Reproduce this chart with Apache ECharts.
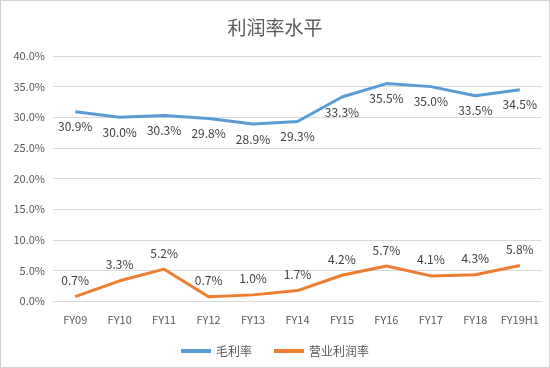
<!DOCTYPE html>
<html>
<head>
<meta charset="utf-8">
<script src="https://cdn.jsdelivr.net/npm/echarts@6/dist/echarts.min.js"></script>
<style>
  html, body { margin: 0; padding: 0; background: #fff; }
  #chart { width: 550px; height: 368px; box-sizing: border-box; border: 1px solid #d0d0d0; }
</style>
</head>
<body>
<div id="chart"></div>
<script>
const categories = ['FY09', 'FY10', 'FY11', 'FY12', 'FY13', 'FY14', 'FY15', 'FY16', 'FY17', 'FY18', 'FY19H1']
const grossMargin = [30.9, 30.0, 30.3, 29.8, 28.9, 29.3, 33.3, 35.5, 35.0, 33.5, 34.5]
const operatingMargin = [0.7, 3.3, 5.2, 0.7, 1.0, 1.7, 4.2, 5.7, 4.1, 4.3, 5.8]

const font = '"Microsoft YaHei", "Noto Sans CJK SC", sans-serif'
const chart = echarts.init(document.getElementById('chart'))

chart.setOption({
  backgroundColor: '#fff',
  animation: false,
  title: {
    text: '利润率水平',
    left: 'center',
    top: 12,
    textStyle: { color: '#595959', fontSize: 19, fontWeight: 'normal', fontFamily: font },
  },
  legend: {
    data: ['毛利率', '营业利润率'],
    bottom: 5,
    itemWidth: 30,
    itemHeight: 4,
    itemGap: 22,
    icon: 'rect',
    textStyle: { color: '#595959', fontSize: 12, fontFamily: font },
  },
  grid: { left: 52, right: 7, top: 55, bottom: 66 },
  xAxis: {
    type: 'category',
    data: categories,
    axisTick: { show: false },
    axisLine: { lineStyle: { color: '#d9d9d9' } },
    axisLabel: { color: '#595959', fontSize: 11, margin: 13, interval: 0, fontFamily: font },
  },
  yAxis: {
    type: 'value',
    min: 0,
    max: 40,
    interval: 5,
    axisLine: { show: false },
    axisTick: { show: false },
    axisLabel: {
      color: '#595959',
      fontSize: 11,
      margin: 8,
      fontFamily: font,
      formatter: (v) => v.toFixed(1) + '%',
    },
    splitLine: { lineStyle: { color: '#d9d9d9' } },
  },
  series: [
    {
      name: '毛利率',
      type: 'line',
      data: grossMargin,
      symbol: 'circle',
      symbolSize: 0,
      lineStyle: { color: '#5B9BD5', width: 3 },
      itemStyle: { color: '#5B9BD5' },
      label: {
        show: true,
        position: 'bottom',
        distance: 9,
        color: '#404040',
        fontSize: 12,
        fontFamily: font,
        formatter: (p) => p.value.toFixed(1) + '%',
      },
    },
    {
      name: '营业利润率',
      type: 'line',
      data: operatingMargin,
      symbol: 'circle',
      symbolSize: 0,
      lineStyle: { color: '#ED7D31', width: 3 },
      itemStyle: { color: '#ED7D31' },
      label: {
        show: true,
        position: 'top',
        distance: 10,
        color: '#404040',
        fontSize: 12,
        fontFamily: font,
        formatter: (p) => p.value.toFixed(1) + '%',
      },
    },
  ],
})
</script>
</body>
</html>
